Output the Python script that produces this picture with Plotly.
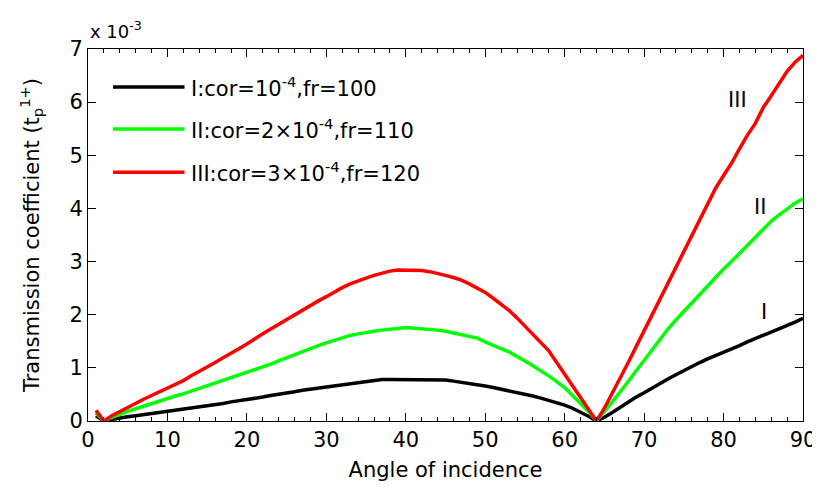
import plotly.graph_objects as go

# Angle of incidence (degrees)
angles = list(range(1, 91))

# Transmission coefficient values, in units of 1e-3
curve_I = [0.10, 0.00, 0.03, 0.06, 0.08, 0.10, 0.12, 0.14, 0.16, 0.19,
           0.21, 0.23, 0.25, 0.27, 0.29, 0.31, 0.33, 0.36, 0.38, 0.40,
           0.43, 0.45, 0.48, 0.50, 0.53, 0.55, 0.58, 0.60, 0.62, 0.65,
           0.67, 0.69, 0.71, 0.73, 0.75, 0.77, 0.78, 0.78, 0.78, 0.78,
           0.78, 0.78, 0.78, 0.78, 0.77, 0.75, 0.73, 0.71, 0.68, 0.66,
           0.63, 0.60, 0.57, 0.54, 0.50, 0.47, 0.43, 0.39, 0.35, 0.30,
           0.24, 0.17, 0.09, 0.00, 0.07, 0.16, 0.26, 0.36, 0.45, 0.53,
           0.62, 0.71, 0.79, 0.87, 0.95, 1.03, 1.10, 1.17, 1.23, 1.29,
           1.35, 1.42, 1.49, 1.55, 1.61, 1.67, 1.74, 1.80, 1.86, 1.93]

curve_II = [0.15, 0.00, 0.07, 0.13, 0.18, 0.23, 0.28, 0.33, 0.38, 0.42,
            0.47, 0.51, 0.56, 0.61, 0.66, 0.71, 0.76, 0.81, 0.86, 0.91,
            0.96, 1.01, 1.07, 1.13, 1.19, 1.25, 1.31, 1.37, 1.42, 1.47,
            1.52, 1.57, 1.61, 1.64, 1.67, 1.69, 1.71, 1.72, 1.74, 1.76,
            1.75, 1.74, 1.73, 1.71, 1.69, 1.66, 1.63, 1.60, 1.56, 1.49,
            1.42, 1.36, 1.30, 1.22, 1.13, 1.04, 0.95, 0.85, 0.74, 0.63,
            0.48, 0.33, 0.18, 0.00, 0.17, 0.36, 0.55, 0.75, 0.95, 1.15,
            1.35, 1.54, 1.73, 1.90, 2.06, 2.22, 2.38, 2.55, 2.70, 2.86,
            3.00, 3.15, 3.30, 3.45, 3.62, 3.76, 3.88, 4.00, 4.10, 4.18]

curve_III = [0.20, 0.00, 0.10, 0.18, 0.26, 0.33, 0.41, 0.48, 0.55, 0.62,
             0.69, 0.76, 0.85, 0.93, 1.01, 1.10, 1.19, 1.27, 1.36, 1.45,
             1.55, 1.64, 1.73, 1.82, 1.91, 1.99, 2.08, 2.17, 2.26, 2.34,
             2.43, 2.51, 2.58, 2.64, 2.69, 2.74, 2.78, 2.82, 2.84, 2.84,
             2.84, 2.83, 2.81, 2.78, 2.74, 2.70, 2.65, 2.58, 2.50, 2.42,
             2.31, 2.20, 2.08, 1.94, 1.79, 1.64, 1.49, 1.32, 1.10, 0.88,
             0.67, 0.46, 0.22, 0.00, 0.24, 0.52, 0.82, 1.10, 1.40, 1.70,
             1.99, 2.30, 2.60, 2.90, 3.20, 3.50, 3.80, 4.10, 4.38, 4.62,
             4.85, 5.12, 5.38, 5.60, 5.90, 6.12, 6.35, 6.58, 6.75, 6.88]

series_names = ["I:cor=10<sup>-4</sup>,fr=100",
                "II:cor=2\u00d710<sup>-4</sup>,fr=110",
                "III:cor=3\u00d710<sup>-4</sup>,fr=120"]
series_tags = ["I", "II", "III"]
series_colors = ["#000000", "#00ff00", "#ff0000"]
series_data = [curve_I, curve_II, curve_III]

x_ticks = [0, 10, 20, 30, 40, 50, 60, 70, 80, 90]
y_ticks = [0, 1, 2, 3, 4, 5, 6, 7]

FONT = "DejaVu Sans, Liberation Sans, Arial, sans-serif"
FS = 21
fig = go.Figure()

for name, color, ys in zip(series_names, series_colors, series_data):
    fig.add_trace(go.Scatter(x=angles, y=ys, mode="lines", name=name,
                             line=dict(color=color, width=3.5),
                             showlegend=False))

# Manual legend (long swatches like the original)
leg_y = [0.898, 0.785, 0.669]
for name, color, ly in zip(series_names, series_colors, leg_y):
    fig.add_shape(type="line", xref="paper", yref="paper",
                  x0=0.035, x1=0.135, y0=ly, y1=ly,
                  line=dict(color=color, width=3.5))
    fig.add_annotation(xref="paper", yref="paper", x=0.141, y=ly,
                       xanchor="left", yanchor="middle", text=name,
                       showarrow=False, font=dict(size=FS, color="black", family=FONT))

# Curve tags near the right end
tag_pos = [(85.1, 2.05), (84.6, 4.03), (81.8, 6.04)]
for tag, (tx, ty) in zip(series_tags, tag_pos):
    fig.add_annotation(x=tx, y=ty, text=tag, showarrow=False,
                       font=dict(size=FS, color="black", family=FONT))

# Exponent label
fig.add_annotation(xref="paper", yref="paper", x=0.0, y=1.05,
                   xanchor="left", yanchor="middle",
                   text="x 10<sup>-3</sup>", showarrow=False,
                   font=dict(size=18, color="black", family=FONT))

fig.update_xaxes(range=[0, 90], tickvals=x_ticks, ticks="inside", ticklen=8,
                 tickwidth=1, tickcolor="black", showline=True, linecolor="black",
                 linewidth=1, mirror="ticks", showgrid=False, zeroline=False,
                 minor=dict(dtick=2, ticks="inside", ticklen=4, tickcolor="black"),
                 tickfont=dict(size=FS, color="black", family=FONT),
                 title=dict(text="Angle of incidence", standoff=11,
                            font=dict(size=FS, color="black", family=FONT)))
fig.update_yaxes(range=[0, 7], tickvals=y_ticks, ticks="inside", ticklen=8,
                 tickwidth=1, tickcolor="black", showline=True, linecolor="black",
                 linewidth=1, mirror="ticks", showgrid=False, zeroline=False,
                 tickfont=dict(size=FS, color="black", family=FONT),
                 title=dict(text="Transmission coefficient (t<sub>p</sub><sup>1</sup><sup>+</sup>)",
                            standoff=24,
                            font=dict(size=FS, color="black", family=FONT)))

# page body adds an 8px offset; margins compensate so the plot area sits at
# x 88..805, y 49..421 in the final picture
fig.update_layout(width=820, height=492,
                  margin=dict(l=80, r=23, t=41, b=79),
                  plot_bgcolor="white", paper_bgcolor="white",
                  font=dict(family=FONT, color="black"))

fig.write_html("out.html")
